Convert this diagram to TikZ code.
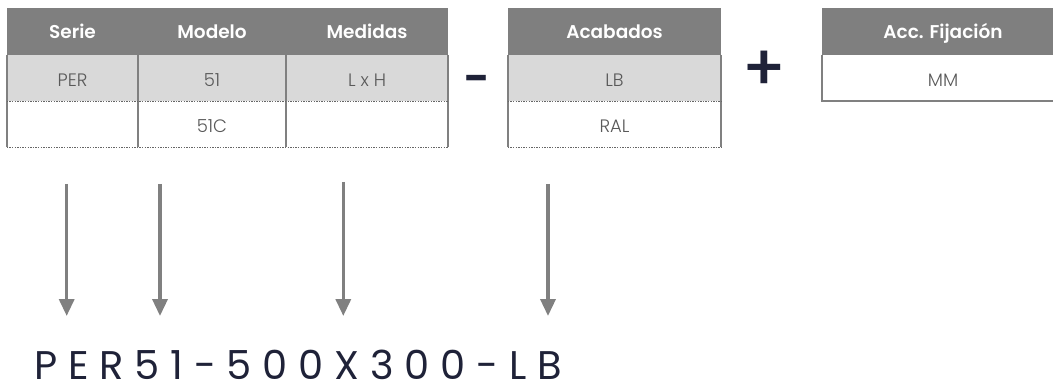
\documentclass[tikz,border=0pt]{standalone}
\usepackage{fontspec}
\usetikzlibrary{arrows.meta}
\setmainfont{Poppins}
\newfontfamily\codefont{Poppins}[LetterSpace=27]
\newfontfamily\lightfont{Poppins Light}
\newfontfamily\hdrfont{Poppins SemiBold}
\newfontfamily\medfont{Poppins Medium}
\definecolor{hdrgray}{HTML}{7F7F7F}
\definecolor{rowgray}{HTML}{D9D9D9}
\definecolor{txtgray}{HTML}{595959}
\definecolor{navy}{HTML}{1F2238}
\definecolor{linegray}{HTML}{808080}
\tikzset{
  hdr/.style={inner sep=0pt, text height=14.6pt, text depth=1pt,
    fill=hdrgray, text=white, minimum height=46.5pt,
    font=\hdrfont\fontsize{18.5}{20}\selectfont},
  rowa/.style={inner sep=0pt, text height=17.8pt, text depth=0.2pt,
    fill=rowgray, text=txtgray, minimum height=46pt,
    font=\lightfont\fontsize{18}{19}\selectfont},
  rowb/.style={rowa, fill=white},
  vline/.style={draw=linegray, line width=2pt},
  dline/.style={draw=linegray!80!black, line width=1.3pt, dash pattern=on 1.3pt off 1.3pt},
  arr/.style={draw=linegray, line width=3.5pt, -{Triangle[length=17pt,width=15pt]}},
  sign/.style={text=navy, inner sep=0pt, font=\medfont\fontsize{64}{64}\selectfont},
  minussign/.style={text=navy, inner sep=0pt, font=\hdrfont\fontsize{46}{46}\selectfont}
}
\begin{document}
\begin{tikzpicture}[x=1pt,y=-1pt]
\useasboundingbox (0,0) rectangle (1053,385);
% table 1
\node[hdr, minimum width=131pt] (h1) at (72.5,31.75) {Serie};
\node[hdr, minimum width=148pt] (h2) at (212,31.75) {Modelo};
\node[hdr, minimum width=162pt] (h3) at (367,31.75) {Medidas};
\node[rowa, minimum width=131pt] (a1) at (72.5,78) {PER};
\node[rowa, minimum width=148pt] (a2) at (212,78) {51};
\node[rowa, minimum width=162pt] (a3) at (367,78) {L x H};
\node[rowb, minimum width=131pt] (b1) at (72.5,124) {};
\node[rowb, minimum width=148pt] (b2) at (212,124) {51C};
\node[rowb, minimum width=162pt] (b3) at (367,124) {};
\draw[vline] (a1.north west) -- (b1.south west);
\draw[vline] (a2.north west) -- (b2.south west);
\draw[vline] (a3.north west) -- (b3.south west);
\draw[vline] (a3.north east) -- (b3.south east);
\draw[dline] (a1.south west) -- (a3.south east);
\draw[dline] (b1.south west) -- (b3.south east);
% minus
\node[minussign] (minus) at (476.5,84.5) {-};
% table 2
\node[hdr, minimum width=213pt] (h4) at (614.5,31.75) {Acabados};
\node[rowa, minimum width=213pt] (a4) at (614.5,78) {LB};
\node[rowb, minimum width=213pt] (b4) at (614.5,124) {RAL};
\draw[vline] (a4.north west) -- (b4.south west);
\draw[vline] (a4.north east) -- (b4.south east);
\draw[dline] (a4.south west) -- (a4.south east);
\draw[dline] (b4.south west) -- (b4.south east);
% plus
\node[sign] (plus) at (764.5,71) {+};
% table 3
\node[hdr, minimum width=242pt] (h5) at (943,31.75) {Acc. Fijación};
\node[rowb, minimum width=242pt] (a5) at (943,78) {MM};
\draw[vline] (a5.north west) -- (a5.south west) -- (a5.south east);
% code
\node[anchor=base west, inner sep=0pt, text depth=0pt, text=navy, font=\codefont\fontsize{40}{40}\selectfont] (code) at (34,379.5) {PER51-500X300-LB};
% arrows
\coordinate (s1) at (66.7,184); \coordinate (t1) at (66.7,316);
\coordinate (s2) at (160,184);  \coordinate (t2) at (160,316);
\coordinate (s3) at (343.3,182); \coordinate (t3) at (343.3,316);
\coordinate (s4) at (548,184);  \coordinate (t4) at (548,316);
\draw[arr] (s1) -- (t1);
\draw[arr] (s2) -- (t2);
\draw[arr] (s3) -- (t3);
\draw[arr] (s4) -- (t4);
\end{tikzpicture}
\end{document}
